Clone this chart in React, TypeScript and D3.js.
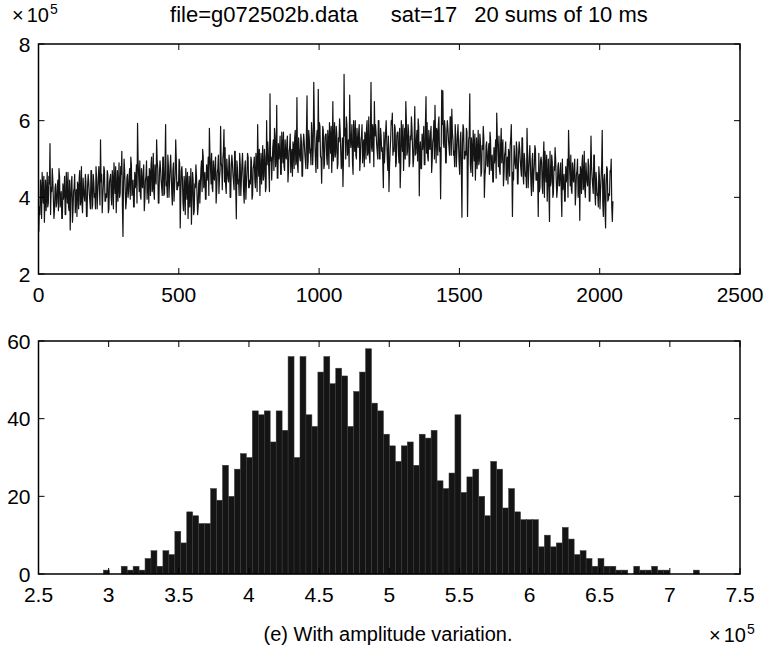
import React from "react";
import * as d3 from "d3";

const TITLE_PARTS = ["file=g072502b.data", "sat=17", "20 sums of 10 ms"];
const CAPTION = "(e) With amplitude variation.";
const TOP_X_TICKS = [0, 500, 1000, 1500, 2000, 2500];
const TOP_Y_TICKS = [2, 4, 6, 8];
const HIST_X_TICKS = [2.5, 3, 3.5, 4, 4.5, 5, 5.5, 6, 6.5, 7, 7.5];
const HIST_Y_TICKS = [0, 20, 40, 60];

// signal (x 10^5) read at samples 1, 5, 9, ... (every SAMPLE_STEP samples)
const SAMPLE_STEP = 4;
const SIGNAL = [
  3.1, 3.55, 4.15, 4.65, 3.85, 3.35, 4.45, 4.05, 3.75, 4.55, 5.4, 4.25, 4.75, 3.95, 3.65, 4.35,
  3.85, 4.45, 4.75, 3.75, 4.15, 3.45, 3.95, 4.55, 3.55, 4.25, 4.65, 3.65, 3.15, 4.35, 3.35, 4.15,
  4.6, 4.0, 3.5, 4.3, 4.5, 3.8, 4.8, 3.6, 4.2, 3.9, 4.4, 3.5, 4.6, 4.1, 3.7, 4.7,
  3.8, 4.4, 4.1, 4.8, 3.7, 4.5, 4.3, 5.5, 4.6, 4.0, 4.8, 3.9, 4.1, 4.7, 3.6, 4.4,
  4.6, 3.8, 4.4, 4.9, 4.1, 3.6, 4.7, 4.3, 4.0, 4.8, 5.2, 2.98, 5.0, 4.2, 3.9, 4.6,
  4.15, 4.75, 5.05, 4.05, 4.45, 3.75, 4.25, 4.85, 5.93, 4.55, 4.95, 3.95, 4.35, 4.65, 3.65, 4.45,
  4.95, 4.35, 3.85, 4.65, 4.85, 4.15, 5.15, 3.95, 4.55, 5.5, 4.75, 3.85, 4.95, 4.45, 4.05, 5.05,
  4.1, 5.9, 4.4, 5.1, 4.0, 4.8, 4.6, 3.8, 4.9, 4.3, 5.5, 4.2, 4.4, 5.0, 3.2, 4.7,
  4.45, 3.65, 4.25, 4.75, 3.95, 3.45, 4.55, 4.15, 3.3, 4.65, 3.55, 4.35, 4.85, 4.05, 3.75, 4.45,
  4.35, 4.95, 5.25, 4.25, 4.65, 3.95, 4.45, 5.05, 5.8, 4.75, 5.15, 4.15, 4.55, 4.85, 3.85, 4.65,
  5.1, 4.5, 5.85, 4.8, 5.0, 5.77, 5.3, 4.1, 4.7, 4.4, 4.9, 4.0, 5.1, 4.6, 4.2, 5.2,
  3.44, 4.75, 4.45, 5.15, 4.05, 4.85, 4.65, 3.85, 4.95, 4.35, 5.15, 4.25, 4.45, 5.05, 3.95, 4.75,
  5.05, 4.25, 4.85, 5.9, 4.55, 4.05, 5.15, 4.75, 4.45, 5.25, 4.15, 6.0, 5.45, 4.65, 6.7, 5.05,
  4.9, 5.5, 5.8, 4.8, 6.4, 4.5, 5.0, 5.6, 4.6, 5.3, 5.7, 4.7, 5.1, 5.4, 4.4, 5.2,
  5.65, 5.05, 4.55, 5.35, 5.55, 4.85, 6.6, 4.65, 5.25, 4.95, 5.45, 4.55, 5.65, 5.15, 4.75, 6.65,
  4.95, 5.55, 5.25, 5.95, 4.85, 7.0, 5.45, 4.65, 5.75, 6.82, 5.95, 5.05, 4.37, 5.85, 4.75, 5.55,
  5.65, 4.85, 5.45, 5.95, 5.15, 4.65, 6.5, 5.35, 5.05, 5.85, 4.75, 5.55, 6.05, 5.25, 4.95, 4.28,
  7.21, 5.8, 6.1, 5.1, 5.5, 6.67, 5.3, 5.9, 4.6, 5.6, 6.0, 5.0, 5.4, 5.7, 4.7, 5.5,
  5.9, 5.3, 4.8, 5.6, 5.8, 5.1, 6.1, 4.9, 7.0, 5.2, 5.7, 6.5, 5.9, 5.4, 5.0, 6.0,
  5.0, 5.6, 5.3, 4.25, 4.9, 5.7, 5.5, 4.7, 4.15, 5.2, 6.0, 6.2, 5.3, 5.9, 4.8, 5.6,
  5.7, 4.9, 4.25, 6.0, 5.2, 4.7, 5.8, 6.5, 5.1, 5.9, 4.8, 5.6, 6.1, 5.3, 5.0, 6.37,
  5.15, 5.75, 6.05, 4.04, 5.45, 4.75, 5.25, 5.85, 4.85, 6.63, 5.95, 4.95, 5.35, 5.65, 4.65, 5.45,
  6.0, 6.4, 4.9, 5.7, 5.9, 5.2, 3.96, 6.8, 6.78, 5.3, 5.8, 4.9, 6.0, 5.5, 5.1, 6.1,
  6.3, 5.5, 5.2, 5.9, 4.8, 5.6, 5.4, 4.6, 5.7, 3.48, 5.9, 5.0, 5.2, 5.8, 3.5, 5.5,
  6.7, 4.65, 5.25, 5.75, 4.95, 4.45, 5.55, 5.15, 4.85, 5.65, 4.55, 5.35, 5.85, 4.0, 4.75, 5.45,
  4.8, 5.4, 5.7, 4.7, 5.1, 4.4, 4.9, 5.5, 6.2, 5.2, 5.6, 4.6, 5.8, 5.3, 4.3, 5.1,
  5.45, 4.85, 4.35, 5.15, 5.35, 5.9, 3.5, 4.45, 5.05, 4.75, 5.25, 4.35, 5.45, 4.95, 4.55, 5.55,
  4.35, 4.95, 4.65, 5.8, 4.25, 5.05, 4.85, 4.05, 5.15, 4.55, 5.35, 4.45, 4.65, 3.5, 4.15, 4.95,
  4.9, 4.1, 5.45, 5.2, 4.4, 3.9, 5.0, 3.37, 4.3, 5.1, 4.0, 4.8, 5.3, 4.5, 4.2, 4.9,
  4.3, 4.9, 3.5, 4.2, 4.6, 3.9, 4.4, 5.0, 5.75, 4.7, 5.1, 4.1, 4.5, 4.8, 3.8, 4.6,
  5.0, 4.4, 3.4, 4.7, 4.9, 4.2, 5.2, 4.0, 4.6, 4.3, 4.8, 3.9, 5.6, 4.5, 4.1, 5.1,
  3.8, 4.4, 4.1, 4.8, 3.7, 4.5, 5.75, 3.5, 4.6, 3.2, 4.8, 3.9, 4.1, 4.7, 5.0, 3.37,
];

// signal (x 10^5) read at samples 3, 7, 11, ...
const SIGNAL_MID = [
  3.75, 4.45, 3.45, 4.25, 4.55, 3.95, 3.65, 4.65, 3.85, 4.35, 3.55, 4.15, 4.45, 3.45, 4.25, 3.75,
  4.25, 3.65, 4.55, 3.95, 3.45, 4.35, 4.15, 3.55, 4.65, 3.85, 3.75, 4.45, 3.95, 4.55, 3.65, 4.25,
  3.6, 4.2, 4.4, 3.7, 4.7, 3.9, 3.8, 4.5, 4.0, 4.6, 3.5, 4.3, 4.4, 3.9, 4.7, 3.7,
  4.6, 4.0, 3.7, 4.5, 4.1, 4.8, 3.8, 4.4, 3.6, 4.3, 4.7, 3.9, 4.0, 4.6, 3.7, 4.5,
  4.0, 4.7, 3.7, 4.5, 4.8, 4.2, 3.9, 4.9, 4.1, 4.6, 3.8, 4.4, 4.7, 3.7, 4.5, 4.0,
  4.55, 3.95, 4.85, 4.25, 3.75, 4.65, 4.45, 3.85, 4.95, 4.15, 4.05, 4.75, 4.25, 4.85, 3.95, 4.55,
  3.95, 4.55, 4.75, 4.05, 5.05, 4.25, 4.15, 4.85, 4.35, 4.95, 3.85, 4.65, 4.75, 4.25, 5.05, 4.05,
  4.9, 4.3, 4.0, 4.8, 4.4, 5.1, 4.1, 4.7, 3.9, 4.6, 5.0, 4.2, 4.3, 4.9, 4.0, 4.8,
  3.85, 4.55, 3.55, 4.35, 4.65, 4.05, 3.75, 4.75, 3.95, 4.45, 3.65, 4.25, 4.55, 3.55, 4.35, 3.85,
  4.75, 4.15, 5.05, 4.45, 3.95, 4.85, 4.65, 4.05, 5.15, 4.35, 4.25, 4.95, 4.45, 5.05, 4.15, 4.75,
  4.1, 4.7, 4.9, 4.2, 5.2, 4.4, 4.3, 5.0, 4.5, 5.1, 4.0, 4.8, 4.9, 4.4, 5.2, 4.2,
  4.95, 4.35, 4.05, 4.85, 4.45, 5.15, 4.15, 4.75, 3.95, 4.65, 5.05, 4.25, 4.35, 4.95, 4.05, 4.85,
  4.45, 5.15, 4.15, 4.95, 5.25, 4.65, 4.35, 5.35, 4.55, 5.05, 4.25, 4.85, 5.15, 4.15, 4.95, 4.45,
  5.3, 4.7, 5.6, 5.0, 4.5, 5.4, 5.2, 4.6, 5.7, 4.9, 4.8, 5.5, 5.0, 5.6, 4.7, 5.3,
  4.65, 5.25, 5.45, 4.75, 5.75, 4.95, 4.85, 5.55, 5.05, 5.65, 4.55, 5.35, 5.45, 4.95, 5.75, 4.75,
  5.75, 5.15, 4.85, 5.65, 5.25, 5.95, 4.95, 5.55, 4.75, 5.45, 5.85, 5.05, 5.15, 5.75, 4.85, 5.65,
  5.05, 5.75, 4.75, 5.55, 5.85, 5.25, 4.95, 5.95, 5.15, 5.65, 4.85, 5.45, 5.75, 4.75, 5.55, 5.05,
  5.6, 5.0, 5.9, 5.3, 4.8, 5.7, 5.5, 4.9, 6.0, 5.2, 5.1, 5.8, 5.3, 5.9, 5.0, 5.6,
  4.9, 5.5, 5.7, 5.0, 6.0, 5.2, 5.1, 5.8, 5.3, 5.9, 4.8, 5.6, 5.7, 5.2, 6.0, 5.0,
  5.8, 5.2, 4.9, 5.7, 5.3, 6.0, 5.0, 5.6, 4.8, 5.5, 5.9, 5.1, 5.2, 5.8, 4.9, 5.7,
  5.1, 5.8, 4.8, 5.6, 5.9, 5.3, 5.0, 6.0, 5.2, 5.7, 4.9, 5.5, 5.8, 4.8, 5.6, 5.1,
  5.55, 4.95, 5.85, 5.25, 4.75, 5.65, 5.45, 4.85, 5.95, 5.15, 5.05, 5.75, 5.25, 5.85, 4.95, 5.55,
  5.0, 5.6, 5.8, 5.1, 6.1, 5.3, 5.2, 5.9, 5.4, 6.0, 4.9, 5.7, 5.8, 5.3, 6.1, 5.1,
  5.7, 5.1, 4.8, 5.6, 5.2, 5.9, 4.9, 5.5, 4.7, 5.4, 5.8, 5.0, 5.1, 5.7, 4.8, 5.6,
  4.85, 5.55, 4.55, 5.35, 5.65, 5.05, 4.75, 5.75, 4.95, 5.45, 4.65, 5.25, 5.55, 4.55, 5.35, 4.85,
  5.2, 4.6, 5.5, 4.9, 4.4, 5.3, 5.1, 4.5, 5.6, 4.8, 4.7, 5.4, 4.9, 5.5, 4.6, 5.2,
  4.45, 5.05, 5.25, 4.55, 5.55, 4.75, 4.65, 5.35, 4.85, 5.45, 4.35, 5.15, 5.25, 4.75, 5.55, 4.55,
  5.15, 4.55, 4.25, 5.05, 4.65, 5.35, 4.35, 4.95, 4.15, 4.85, 5.25, 4.45, 4.55, 5.15, 4.25, 5.05,
  4.3, 5.0, 4.0, 4.8, 5.1, 4.5, 4.2, 5.2, 4.4, 4.9, 4.1, 4.7, 5.0, 4.0, 4.8, 4.3,
  4.7, 4.1, 5.0, 4.4, 3.9, 4.8, 4.6, 4.0, 5.1, 4.3, 4.2, 4.9, 4.4, 5.0, 4.1, 4.7,
  4.0, 4.6, 4.8, 4.1, 5.1, 4.3, 4.2, 4.9, 4.4, 5.0, 3.9, 4.7, 4.8, 4.3, 5.1, 4.1,
  4.65, 4.05, 3.75, 4.55, 4.15, 4.85, 3.85, 4.45, 3.65, 4.35, 4.75, 3.95, 4.05, 4.65, 3.75, 3.9,
];

// histogram: 100 bins between HIST_MIN and HIST_MAX (x 10^5)
const HIST_MIN = 2.962;
const HIST_MAX = 7.21;
const HIST_COUNTS = [
  1, 0, 0, 2, 1, 2, 1, 4, 6, 2,
  6, 5, 11, 8, 16, 15, 13, 13, 22, 19,
  28, 20, 27, 31, 30, 42, 41, 42, 34, 42,
  37, 56, 30, 56, 41, 38, 52, 56, 49, 53,
  51, 38, 47, 52, 58, 44, 42, 36, 33, 29,
  33, 34, 28, 36, 35, 37, 24, 22, 26, 41,
  21, 25, 27, 20, 15, 29, 27, 17, 22, 16,
  14, 14, 14, 7, 10, 7, 8, 12, 9, 5,
  6, 4, 2, 4, 2, 2, 1, 1, 0, 2,
  1, 1, 2, 1, 1, 0, 0, 0, 0, 1,
];

const W = 768;
const H = 649;
const FONT = "'Liberation Sans', Arial, Helvetica, sans-serif";
const TICK = 6;
const FS = 21;

function Frame({ x, y, xTicks, yTicks }: any) {
  const [x0, x1] = x.range();
  const [y0, y1] = y.range();
  return (
    <g>
      {xTicks.map((t: number) => (
        <g key={"x" + t}>
          <line x1={x(t)} x2={x(t)} y1={y0} y2={y0 - TICK} stroke="#000" strokeWidth={1} />
          <line x1={x(t)} x2={x(t)} y1={y1} y2={y1 + TICK} stroke="#000" strokeWidth={1} />
          <text x={x(t)} y={y0 + 28} textAnchor="middle" fontSize={FS} fontFamily={FONT} fill="#000">
            {String(t)}
          </text>
        </g>
      ))}
      {yTicks.map((t: number) => (
        <g key={"y" + t}>
          <line x1={x0} x2={x0 + TICK} y1={y(t)} y2={y(t)} stroke="#000" strokeWidth={1} />
          <line x1={x1} x2={x1 - TICK} y1={y(t)} y2={y(t)} stroke="#000" strokeWidth={1} />
          <text x={x0 - 8} y={y(t) + 7.5} textAnchor="end" fontSize={FS} fontFamily={FONT} fill="#000">
            {String(t)}
          </text>
        </g>
      ))}
      <rect x={x0} y={y1} width={x1 - x0} height={y0 - y1} fill="none" stroke="#000" strokeWidth={1.5} />
    </g>
  );
}

function Exponent({ x, y }: { x: number; y: number }) {
  return (
    <text x={x} y={y} fontSize={20} fontFamily={FONT} fill="#000">
      <tspan>×</tspan>
      <tspan dx={3}>10</tspan>
      <tspan fontSize={14} dy={-8} dx={1}>5</tspan>
    </text>
  );
}

export default function App() {
  const xTop = d3.scaleLinear().domain([0, 2500]).range([38.5, 740]);
  const yTop = d3.scaleLinear().domain([2, 8]).range([274, 44]);
  const xH = d3.scaleLinear().domain([2.5, 7.5]).range([38.5, 740]);
  const yH = d3.scaleLinear().domain([0, 60]).range([574, 341]);

  const pts: [number, number][] = [];
  SIGNAL.forEach((v, i) => {
    pts.push([1 + i * SAMPLE_STEP, v]);
    if (i < SIGNAL_MID.length) pts.push([3 + i * SAMPLE_STEP, SIGNAL_MID[i]]);
  });
  const line = d3
    .line<[number, number]>()
    .x((d) => xTop(d[0]))
    .y((d) => yTop(d[1]));

  const binW = (HIST_MAX - HIST_MIN) / HIST_COUNTS.length;
  const titleCenters = [264, 424, 561];

  return (
    <svg
      width={W}
      height={H}
      style={{ position: "fixed", left: 0, top: 0, background: "#fff" }}
      xmlns="http://www.w3.org/2000/svg"
    >
      <rect width={W} height={H} fill="#fff" />
      {/* top header */}
      <Exponent x={12} y={22} />
      {TITLE_PARTS.map((s, i) => (
        <text key={s} x={titleCenters[i]} y={22} textAnchor="middle" fontSize={22} fontFamily={FONT} fill="#000">
          {s}
        </text>
      ))}

      {/* top signal */}
      <path d={line(pts) || ""} fill="none" stroke="#141414" strokeWidth={1.2} strokeLinejoin="round" />
      <Frame x={xTop} y={yTop} xTicks={TOP_X_TICKS} yTicks={TOP_Y_TICKS} />

      {/* histogram */}
      {HIST_COUNTS.map((c, i) =>
        c > 0 ? (
          <rect
            key={i}
            x={xH(HIST_MIN + i * binW)}
            y={yH(c)}
            width={xH(HIST_MIN + (i + 1) * binW) - xH(HIST_MIN + i * binW)}
            height={yH(0) - yH(c)}
            fill="#141414"
            stroke="#3a3a3a"
            strokeWidth={0.5}
          />
        ) : null
      )}
      <Frame x={xH} y={yH} xTicks={HIST_X_TICKS} yTicks={HIST_Y_TICKS} />

      {/* caption */}
      <text x={388} y={641} textAnchor="middle" fontSize={20} fontFamily={FONT} fill="#000">
        {CAPTION}
      </text>
      <Exponent x={709} y={642} />
    </svg>
  );
}
